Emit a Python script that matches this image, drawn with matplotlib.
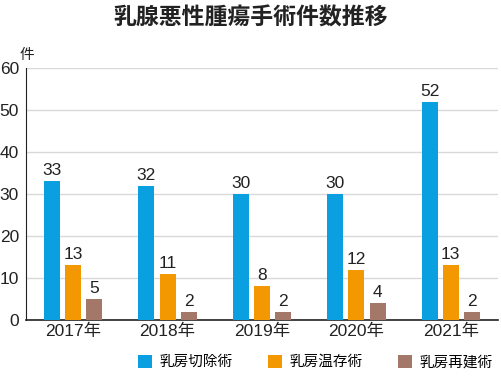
import matplotlib
matplotlib.use("Agg")
import matplotlib.pyplot as plt
import numpy as np
from matplotlib.patches import Patch

plt.rcParams['font.family'] = ['Liberation Sans', 'Noto Sans CJK JP', 'DejaVu Sans']
CJK = ['Noto Sans CJK JP', 'DejaVu Sans']

years = ["2017年", "2018年", "2019年", "2020年", "2021年"]
series_names = ["乳房切除術", "乳房温存術", "乳房再建術"]
mastectomy = [33, 32, 30, 30, 52]
conserving = [13, 11, 8, 12, 13]
reconstruction = [5, 2, 2, 4, 2]
colors = ["#0a9fe0", "#f39800", "#a37868"]
yticks = [0, 10, 20, 30, 40, 50, 60]

fig = plt.figure(figsize=(5.01, 3.76), dpi=100)
ax = fig.add_axes([26/501, 56/376, 472/501, 252/376])

x = np.arange(len(years))
w = 0.17
gap = 0.225
data = [mastectomy, conserving, reconstruction]
for i, (vals, c) in enumerate(zip(data, colors)):
    pos = x + (i - 1) * gap
    ax.bar(pos, vals, width=w, color=c, zorder=3)
    for p, v in zip(pos, vals):
        ax.text(p, v + 0.7, str(v), ha='center', va='bottom', fontsize=12.5, color='#222222', zorder=4)

ax.set_xlim(-0.5, len(years) - 0.5)
ax.set_ylim(0, 60)
ax.set_yticks(yticks)
ax.set_yticklabels([str(t) for t in yticks], fontsize=12.5, color='#222222')
ax.set_xticks(x)
ax.set_xticklabels(years, fontsize=12.5, color='#222222')
ax.tick_params(axis='both', length=0, pad=3)
ax.tick_params(axis='y', pad=5)
ax.grid(axis='y', color='#d9d9d9', linewidth=1, zorder=0)
for s in ['top', 'right']:
    ax.spines[s].set_visible(False)
ax.spines['left'].set_color('#222222')
ax.spines['bottom'].set_color('#222222')
ax.spines['bottom'].set_linewidth(1.2)

fig.text(0.5, 1 - 18/376, "乳腺悪性腫瘍手術件数推移", ha='center', va='center',
         fontsize=16.5, fontweight='bold', color='#222222', family=CJK)
fig.text(20/501, 1 - 55/376, "件", ha='left', va='center', fontsize=10.5, color='#222222', family=CJK)

handles = [Patch(facecolor=c, edgecolor='none') for c in colors]
fig.legend(handles, series_names, loc='center', bbox_to_anchor=(315/501, 1 - 362/376),
           ncol=3, frameon=False, prop={'family': CJK, 'size': 10.5},
           handlelength=1.0, handleheight=1.0,
           handletextpad=0.5, columnspacing=2.4)

fig.savefig("out.png", dpi=100)
